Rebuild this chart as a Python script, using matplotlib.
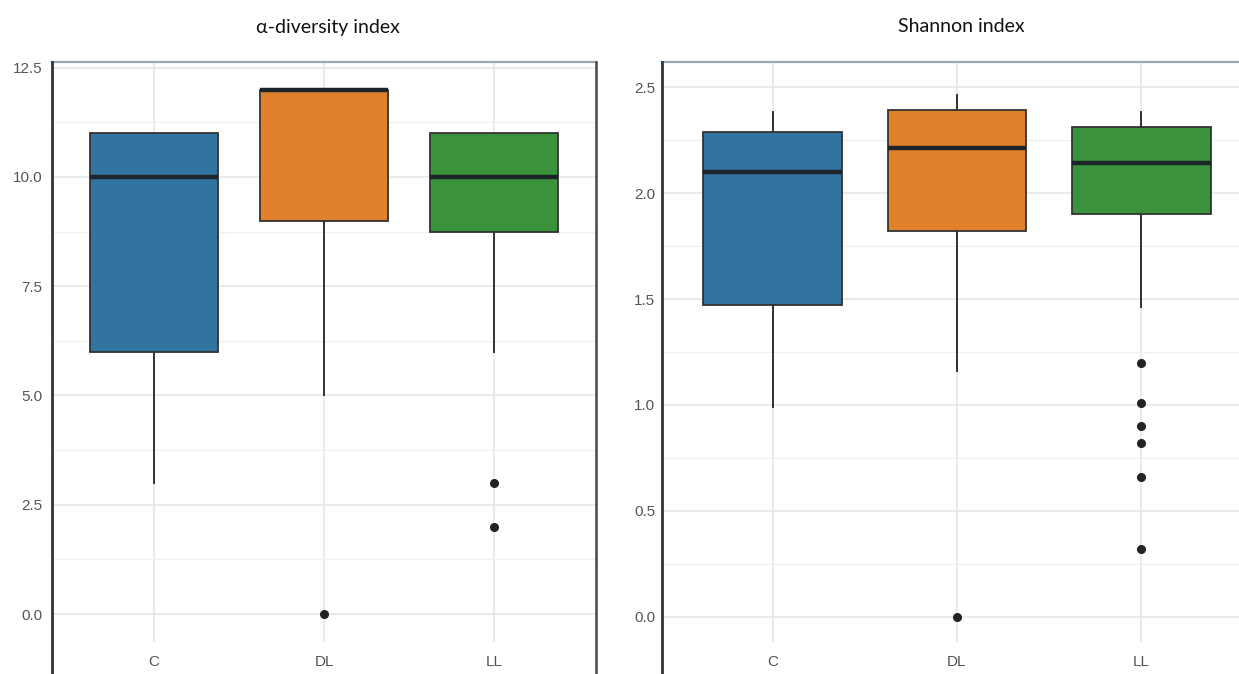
import matplotlib
matplotlib.use("Agg")
import matplotlib.pyplot as plt
from matplotlib.lines import Line2D
import numpy as np

# ---------------- data ----------------
categories = ["C", "DL", "LL"]
colors = ["#3274a1", "#e1812c", "#3a923a"]

# alpha-diversity index (left panel)
alpha_whislo = [3.0, 5.0, 6.0]
alpha_q1 = [6.0, 9.0, 8.75]
alpha_med = [10.0, 12.0, 10.0]
alpha_q3 = [11.0, 12.0, 11.0]
alpha_whishi = [11.0, 12.0, 11.0]
alpha_fliers = [[], [0.0], [3.0, 2.0]]
alpha_ticks = [0.0, 2.5, 5.0, 7.5, 10.0, 12.5]

# Shannon index (right panel)
shan_whislo = [0.99, 1.16, 1.46]
shan_q1 = [1.47, 1.82, 1.90]
shan_med = [2.10, 2.21, 2.14]
shan_q3 = [2.29, 2.39, 2.31]
shan_whishi = [2.38, 2.46, 2.38]
shan_fliers = [[], [0.0], [1.20, 1.01, 0.90, 0.82, 0.66, 0.32]]
shan_ticks = [0.0, 0.5, 1.0, 1.5, 2.0, 2.5]

titles = ["α-diversity index", "Shannon index"]

# ---------------- figure ----------------
W, H = 1239, 674
fig = plt.figure(figsize=(W / 100, H / 100), dpi=100)


def px_rect(x0, y0, x1, y1):
    return [x0 / W, 1 - y1 / H, (x1 - x0) / W, (y1 - y0) / H]


def draw_panel(rect, whislo, q1, med, q3, whishi, fliers, ticks, ylim, minor, pad_y):
    ax = fig.add_axes(rect)
    stats = []
    for i in range(len(categories)):
        stats.append(dict(whislo=whislo[i], q1=q1[i], med=med[i], q3=q3[i],
                          whishi=whishi[i], fliers=fliers[i], label=categories[i]))
    pos = np.arange(1, len(categories) + 1)
    bp = ax.bxp(stats, positions=pos, widths=0.75, patch_artist=True,
                showcaps=False,
                boxprops=dict(edgecolor="#333333", linewidth=1.3),
                medianprops=dict(color="#1c2529", linewidth=3.2, solid_capstyle="butt"),
                whiskerprops=dict(color="#333333", linewidth=1.4),
                flierprops=dict(marker="o", markerfacecolor="#222222",
                                markeredgecolor="#222222", markersize=5.5),
                zorder=3)
    for patch, c in zip(bp["boxes"], colors):
        patch.set_facecolor(c)
    ax.set_yticks(ticks)
    ax.set_yticklabels([f"{t:.1f}" for t in ticks])
    ax.set_yticks(np.array(ticks[:-1]) + minor, minor=True)
    ax.set_xticks(pos)
    ax.set_xticklabels(categories)
    ax.set_xlim(0.4, len(categories) + 0.6)
    ax.set_ylim(*ylim)
    ax.grid(True, which="major", color="#e6e6e6", linewidth=1.2, zorder=0)
    ax.grid(True, which="minor", axis="y", color="#f0f0f0", linewidth=0.9, zorder=0)
    ax.set_axisbelow(True)
    for s in ax.spines.values():
        s.set_visible(False)
    ax.tick_params(axis="both", which="both", length=0, labelsize=11,
                   labelcolor="#555555")
    ax.tick_params(axis="y", pad=pad_y)
    ax.tick_params(axis="x", pad=9)
    for lab in ax.get_xticklabels() + ax.get_yticklabels():
        lab.set_family("Liberation Sans")
    return ax


# left panel: x 52..596, y 62..642 ; 0 at 614, 43.7 px/unit
ax1 = draw_panel(px_rect(52, 62, 596, 642), alpha_whislo, alpha_q1, alpha_med, alpha_q3,
                 alpha_whishi, alpha_fliers, alpha_ticks, (-0.64, 12.63), 1.25, 7)
# right panel: x 662..1252, y 62..642 ; 0 at 617, 212 px/unit
ax2 = draw_panel(px_rect(662, 62, 1252, 642), shan_whislo, shan_q1, shan_med, shan_q3,
                 shan_whishi, shan_fliers, shan_ticks, (-0.118, 2.618), 0.25, 5)

# frames (decoration)
def fline(x0, y0, x1, y1, color, lw):
    fig.add_artist(Line2D([x0 / W, x1 / W], [1 - y0 / H, 1 - y1 / H],
                          color=color, linewidth=lw, transform=fig.transFigure))

fline(52, 62, 596, 62, "#9aa6b2", 1.6)
fline(52, 62, 52, 674, "#2a363c", 2.0)
fline(596, 62, 596, 674, "#3c4a50", 1.8)
fline(662, 62, 1239, 62, "#9aa6b2", 1.6)
fline(662, 62, 662, 674, "#2a363c", 2.0)

fig.text(328 / W, 1 - 27 / H, titles[0], ha="center", va="center",
         fontsize=14, family="Lato", color="#111111")
fig.text(961 / W, 1 - 27 / H, titles[1], ha="center", va="center",
         fontsize=14, family="Lato", color="#111111")

fig.savefig("out.png", dpi=100, facecolor="white")
